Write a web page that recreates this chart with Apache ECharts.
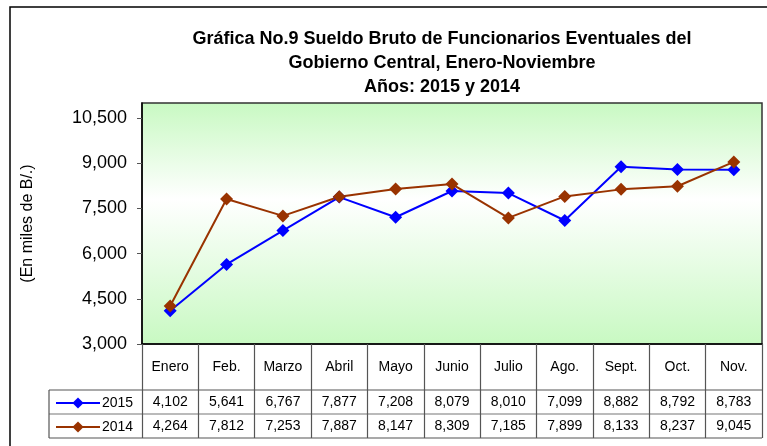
<!DOCTYPE html>
<html>
<head>
<meta charset="utf-8">
<script src="https://cdn.jsdelivr.net/npm/echarts@6/dist/echarts.min.js"></script>
<style>
    html, body { margin: 0; padding: 0; background: #fff; }
    #chart { width: 767px; height: 446px; }
</style>
</head>
<body>
<div id="chart"></div>
<script>
    var months = ['Enero', 'Feb.', 'Marzo', 'Abril', 'Mayo', 'Junio', 'Julio', 'Ago.', 'Sept.', 'Oct.', 'Nov.']
    var values2015 = [4102, 5641, 6767, 7877, 7208, 8079, 8010, 7099, 8882, 8792, 8783]
    var values2014 = [4264, 7812, 7253, 7887, 8147, 8309, 7185, 7899, 8133, 8237, 9045]
    var titleLines = ['Gráfica No.9 Sueldo Bruto de Funcionarios Eventuales del', 'Gobierno Central, Enero-Noviembre', 'Años: 2015 y 2014']

    function fmt(v) {
        return v.toLocaleString('en-US')
    }

    var font = 'Liberation Sans, Arial, sans-serif'
    var myChart = echarts.init(document.getElementById('chart'))

    var option = {
        animation: false,
        backgroundColor: '#fff',
        title: {
            text: titleLines.join('\n'),
            left: 437,
            top: 22,
            textAlign: 'center',
            textStyle: { fontFamily: font, fontSize: 18, fontWeight: 'bold', color: '#000', lineHeight: 24 }
        },
        legend: {
            orient: 'vertical',
            left: 50,
            top: 391,
            itemWidth: 44,
            itemHeight: 14,
            itemGap: 10,
            textStyle: { fontFamily: font, fontSize: 14, color: '#000', padding: [0, 0, 0, -3] },
            data: ['2015', '2014']
        },
        grid: {
            left: 142, right: 5, top: 103, bottom: 102,
            show: true,
            borderColor: '#333',
            borderWidth: 1.5,
            backgroundColor: new echarts.graphic.LinearGradient(0, 0, 0, 1, [
                { offset: 0, color: '#c8f9c2' },
                { offset: 0.4, color: '#ffffff' },
                { offset: 1, color: '#c8f9c2' }
            ])
        },
        xAxis: {
            type: 'category',
            data: months,
            boundaryGap: true,
            axisLine: { lineStyle: { color: '#000', width: 1.5 } },
            axisTick: { show: true, interval: 0, length: 94, lineStyle: { color: '#555', width: 1.2 } },
            axisLabel: {
                margin: 0,
                interval: 0,
                fontFamily: font,
                fontSize: 14,
                color: '#000',
                formatter: function (value, index) {
                    return '{m|' + value + '}\n{a|' + fmt(values2015[index]) + '}\n{b|' + fmt(values2014[index]) + '}'
                },
                rich: {
                    m: { fontFamily: font, fontSize: 14, lineHeight: 46, color: '#000' },
                    a: { fontFamily: font, fontSize: 14, lineHeight: 24, color: '#000' },
                    b: { fontFamily: font, fontSize: 14, lineHeight: 24, color: '#000' }
                }
            }
        },
        yAxis: {
            type: 'value',
            min: 3000,
            max: 11000,
            interval: 1500,
            name: '(En miles de B/.)',
            nameLocation: 'middle',
            nameGap: 106,
            nameTextStyle: { fontFamily: font, fontSize: 16, color: '#000' },
            axisLine: { show: true, lineStyle: { color: '#000', width: 1.5 } },
            axisTick: { show: true, inside: false, length: 5, lineStyle: { color: '#555' } },
            splitLine: { show: false },
            axisLabel: {
                showMaxLabel: false,
                margin: 15,
                fontFamily: font,
                fontSize: 18,
                color: '#000',
                formatter: function (v) { return fmt(v) }
            }
        },
        series: [
            {
                name: '2015',
                type: 'line',
                data: values2015,
                symbol: 'diamond',
                symbolSize: 13,
                lineStyle: { color: '#0000ff', width: 2 },
                itemStyle: { color: '#0000ff' }
            },
            {
                name: '2014',
                type: 'line',
                data: values2014,
                symbol: 'diamond',
                symbolSize: 13,
                lineStyle: { color: '#993300', width: 2 },
                itemStyle: { color: '#993300' }
            }
        ],
        graphic: [
            { type: 'rect', shape: { x: 10, y: 7, width: 800, height: 500 }, style: { fill: null, stroke: '#000', lineWidth: 1.5 }, silent: true, z: -1 },
            { type: 'line', shape: { x1: 49, y1: 390, x2: 762, y2: 390 }, style: { stroke: '#555', lineWidth: 1.2 } },
            { type: 'line', shape: { x1: 49, y1: 414, x2: 762, y2: 414 }, style: { stroke: '#777', lineWidth: 1.2 } },
            { type: 'line', shape: { x1: 49, y1: 438, x2: 762, y2: 438 }, style: { stroke: '#555', lineWidth: 1.2 } },
            { type: 'line', shape: { x1: 49, y1: 390, x2: 49, y2: 438 }, style: { stroke: '#555', lineWidth: 1.2 } }
        ]
    }

    myChart.setOption(option)
</script>
</body>
</html>
